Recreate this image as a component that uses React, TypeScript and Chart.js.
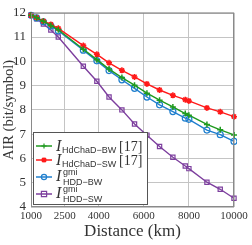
import React, { useEffect, useRef } from "react";
import { Chart, registerables } from "chart.js";

Chart.register(...registerables);

const distances = [1000, 1250, 1550, 1880, 2210, 3320, 3920, 4460, 5030, 5590, 6140, 6700, 7290, 7840, 8000, 8800, 9390, 10000];
const hdchadBW = [11.9, 11.8, 11.65, 11.48, 11.3, 10.5, 10.07, 9.68, 9.33, 9.02, 8.69, 8.4, 8.12, 7.85, 7.78, 7.4, 7.18, 6.97];
const hdchadSW = [11.9, 11.8, 11.66, 11.52, 11.36, 10.65, 10.29, 9.94, 9.63, 9.36, 9.07, 8.82, 8.6, 8.42, 8.37, 8.08, 7.92, 7.72];
const hddBW = [11.9, 11.79, 11.63, 11.46, 11.26, 10.46, 10.02, 9.62, 9.24, 8.89, 8.53, 8.21, 7.93, 7.66, 7.61, 7.17, 6.98, 6.7];
const hddSW = [11.9, 11.75, 11.54, 11.29, 11.0, 9.8, 9.18, 8.53, 8.0, 7.42, 6.96, 6.49, 6.05, 5.69, 5.58, 5.02, 4.73, 4.36];
const xTicks = [1000, 2500, 4000, 6000, 8000, 10000];
const yTitle = "AIR (bit/symbol)";

const GREEN = "#1f9a1f";
const RED = "#ff1a1a";
const BLUE = "#1f7fce";
const PURPLE = "#7d3f9e";
const TEXT = "#333333";

const SERIF = "'Liberation Serif', 'DejaVu Serif', serif";
const SANS = "'Liberation Sans', 'DejaVu Sans', sans-serif";

type Entry = { color: string; style: string; sub: string; sup?: string; ref?: string };
const legendEntries: Entry[] = [
  { color: GREEN, style: "cross", sub: "HdChaD\u2212BW", ref: "[17]" },
  { color: RED, style: "star", sub: "HdChaD\u2212SW", ref: "[17]" },
  { color: BLUE, style: "circle", sub: "HDD\u2212BW", sup: "gmi" },
  { color: PURPLE, style: "rect", sub: "HDD\u2212SW", sup: "gmi" },
];

function drawPoint(ctx: CanvasRenderingContext2D, style: string, x: number, y: number, r: number, color: string) {
  ctx.save();
  ctx.strokeStyle = color;
  ctx.fillStyle = color;
  ctx.beginPath();
  if (style === "cross") {
    ctx.lineWidth = 1.2;
    ctx.moveTo(x - r, y); ctx.lineTo(x + r, y);
    ctx.moveTo(x, y - r); ctx.lineTo(x, y + r);
    ctx.stroke();
  } else if (style === "star") {
    ctx.lineWidth = 1.6;
    ctx.moveTo(x - r, y); ctx.lineTo(x + r, y);
    ctx.moveTo(x, y - r); ctx.lineTo(x, y + r);
    const d = r * 0.75;
    ctx.moveTo(x - d, y - d); ctx.lineTo(x + d, y + d);
    ctx.moveTo(x - d, y + d); ctx.lineTo(x + d, y - d);
    ctx.stroke();
  } else if (style === "circle") {
    ctx.lineWidth = 1.2;
    ctx.arc(x, y, r, 0, Math.PI * 2);
    ctx.stroke();
  } else {
    ctx.lineWidth = 1.2;
    ctx.rect(x - r, y - r, 2 * r, 2 * r);
    ctx.stroke();
  }
  ctx.restore();
}

const frameAndLegend = {
  id: "frameAndLegend",
  afterDraw(chart: any) {
    const { ctx, chartArea } = chart;
    ctx.save();
    ctx.strokeStyle = "#8a8a8a";
    ctx.lineWidth = 1;
    ctx.strokeRect(chartArea.left + 0.5, chartArea.top + 0.5, chartArea.right - chartArea.left - 1, chartArea.bottom - chartArea.top - 1);

    // y-axis title
    ctx.save();
    ctx.translate(9.5, (chartArea.top + chartArea.bottom) / 2);
    ctx.rotate(-Math.PI / 2);
    ctx.fillStyle = TEXT;
    ctx.font = `15px ${SERIF}`;
    const w = ctx.measureText(yTitle).width;
    const s = 100 / w;
    ctx.font = `${(15 * s).toFixed(2)}px ${SERIF}`;
    ctx.textAlign = "center";
    ctx.textBaseline = "middle";
    ctx.fillText(yTitle, 0, 0);
    ctx.restore();

    const bx = 33.5, by = 132.5, bw = 114, bh = 72;
    ctx.fillStyle = "#ffffff";
    ctx.fillRect(bx, by, bw, bh);
    ctx.strokeStyle = "#555555";
    ctx.lineWidth = 1;
    ctx.strokeRect(bx, by, bw, bh);

    const rows = [146, 160, 177, 194];
    legendEntries.forEach((e, i) => {
      const y = rows[i];
      ctx.strokeStyle = e.color;
      ctx.lineWidth = 1.5;
      ctx.beginPath();
      ctx.moveTo(36, y);
      ctx.lineTo(52, y);
      ctx.stroke();
      drawPoint(ctx, e.style, 44, y, 2.6, e.color);

      ctx.fillStyle = TEXT;
      ctx.textBaseline = "alphabetic";
      ctx.textAlign = "left";
      ctx.font = `italic 16px ${SERIF}`;
      const base = e.sup ? y + 4 : y + 5;
      ctx.fillText("I", 56, base);
      ctx.font = `9px ${SANS}`;
      if (e.sup) {
        ctx.fillText(e.sup, 63, y - 2);
        ctx.fillText(e.sub, 63, y + 8);
      } else {
        ctx.fillText(e.sub, 62, y + 7);
      }
      if (e.ref) {
        ctx.font = `14px ${SERIF}`;
        ctx.fillText(e.ref, 119, y + 5);
      }
    });
    ctx.restore();
  },
};

function series(label: string, values: number[], color: string, style: string, hollow: boolean) {
  return {
    label,
    data: distances.map((d, i) => ({ x: d, y: values[i] })),
    borderColor: color,
    backgroundColor: hollow ? "rgba(255,255,255,0)" : color,
    borderWidth: 1.4,
    pointStyle: style,
    pointRadius: 3,
    pointBorderWidth: hollow ? 1.2 : 1.5,
    pointBorderColor: color,
    pointBackgroundColor: hollow ? "rgba(255,255,255,0)" : color,
    tension: 0,
    clip: 3,
  };
}

export default function App() {
  const ref = useRef<HTMLCanvasElement | null>(null);
  useEffect(() => {
    if (!ref.current) return;
    const chart = new Chart(ref.current, {
      type: "line",
      data: {
        datasets: [
          series("HdChaD-BW", hdchadBW, GREEN, "cross", false),
          series("HdChaD-SW", hdchadSW, RED, "star", false),
          series("HDD-BW", hddBW, BLUE, "circle", true),
          series("HDD-SW", hddSW, PURPLE, "rect", true),
        ] as any,
      },
      options: {
        animation: false,
        responsive: true,
        maintainAspectRatio: false,
        layout: { padding: { top: 7, right: 18, left: 0, bottom: 0 } },
        plugins: { legend: { display: false }, tooltip: { enabled: false } },
        scales: {
          x: {
            type: "linear",
            min: 1000,
            max: 10000,
            afterBuildTicks: (scale: any) => {
              scale.ticks = xTicks.map((v) => ({ value: v }));
            },
            afterFit: (scale: any) => {
              scale.height = 38;
            },
            grid: { color: "#c4c4c4", drawTicks: false, lineWidth: 1 },
            border: { display: false },
            ticks: {
              padding: 3,
              maxRotation: 0,
              autoSkip: false,
              color: TEXT,
              font: { family: SERIF, size: 11 },
              callback: (v: any) => String(v),
            },
            title: {
              display: true,
              text: "Distance (km)",
              color: TEXT,
              font: { family: SERIF, size: 17 },
              padding: { top: 0, bottom: 3 },
            },
          },
          y: {
            min: 4,
            max: 12,
            afterFit: (scale: any) => {
              scale.width = 31;
            },
            grid: { color: "#c4c4c4", drawTicks: false, lineWidth: 1 },
            border: { display: false },
            ticks: {
              stepSize: 1,
              padding: 5,
              color: TEXT,
              font: { family: SERIF, size: 13 },
            },
            title: { display: false, text: yTitle },
          },
        },
      },
      plugins: [frameAndLegend],
    });
    return () => chart.destroy();
  }, []);
  return (
    <div style={{ position: "absolute", left: 0, top: 0, width: 252, height: 245, background: "#fff" }}>
      <canvas ref={ref} />
    </div>
  );
}
